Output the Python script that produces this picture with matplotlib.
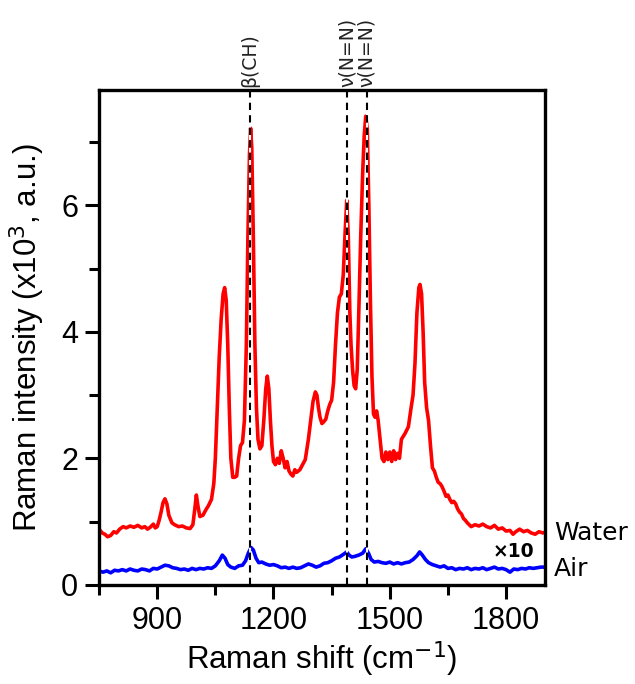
import matplotlib
matplotlib.use("Agg")
import matplotlib.pyplot as plt
from matplotlib.ticker import MultipleLocator

plt.rcParams['font.family'] = ['Liberation Sans', 'DejaVu Sans']

# Raman spectrum in water (red)
water_shift = [750, 758, 765, 772, 780, 788, 795, 803, 812, 820, 830, 840, 850, 860, 868, 875,
               882, 890, 895, 900, 905, 910, 915, 920, 925, 930, 938, 945, 955, 965, 975, 985,
               992, 997, 1001, 1005, 1010, 1018, 1025, 1032, 1040, 1046, 1050, 1055, 1060, 1065,
               1070, 1074, 1078, 1082, 1086, 1090, 1095, 1100, 1105, 1110, 1115, 1120, 1125, 1130,
               1134, 1138, 1141, 1144, 1148, 1152, 1156, 1160, 1165, 1170, 1175, 1180, 1184, 1188,
               1192, 1196, 1200, 1205, 1210, 1215, 1220, 1225, 1230, 1235, 1240, 1245, 1250, 1255,
               1260, 1268, 1275, 1282, 1290, 1296, 1302, 1308, 1312, 1316, 1320, 1325, 1330, 1335,
               1340, 1345, 1350, 1355, 1360, 1365, 1370, 1375, 1380, 1385, 1389, 1393, 1397, 1400,
               1404, 1408, 1412, 1416, 1420, 1425, 1430, 1434, 1438, 1442, 1446, 1450, 1454, 1458,
               1462, 1466, 1470, 1475, 1480, 1485, 1490, 1495, 1500, 1505, 1510, 1515, 1520, 1525,
               1530, 1540, 1548, 1555, 1560, 1565, 1570, 1575, 1578, 1582, 1586, 1590, 1595, 1600,
               1605, 1610, 1615, 1620, 1625, 1630, 1635, 1640, 1645, 1650, 1655, 1660, 1665, 1670,
               1675, 1680, 1685, 1690, 1695, 1700, 1705, 1710, 1720, 1730, 1740, 1750, 1760, 1770,
               1780, 1790, 1800, 1810, 1818, 1825, 1835, 1845, 1855, 1865, 1875, 1885, 1895, 1900]
water_int = [0.88, 0.82, 0.80, 0.76, 0.78, 0.84, 0.82, 0.88, 0.92, 0.90, 0.93, 0.91, 0.94, 0.90, 0.92, 0.88,
             0.91, 0.96, 0.90, 0.92, 1.02, 1.15, 1.30, 1.36, 1.28, 1.10, 0.98, 0.95, 0.92, 0.93, 0.90, 0.89,
             0.95, 1.20, 1.42, 1.25, 1.08, 1.10, 1.18, 1.25, 1.35, 1.60, 2.0, 2.8, 3.6, 4.2,
             4.6, 4.70, 4.5, 3.8, 2.8, 2.0, 1.70, 1.70, 1.72, 2.0, 2.2, 2.25, 2.6, 3.8,
             5.5, 6.8, 7.22, 6.9, 5.5, 3.8, 2.8, 2.3, 2.15, 2.2, 2.6, 3.1, 3.30, 3.1,
             2.6, 2.2, 1.95, 1.90, 2.0, 1.92, 2.12, 2.0, 1.85, 1.95, 1.80, 1.75, 1.72, 1.82,
             1.78, 1.82, 1.90, 1.98, 2.3, 2.6, 2.9, 3.05, 3.0, 2.8, 2.65, 2.55, 2.58, 2.62,
             2.75, 2.85, 2.92, 3.2, 3.8, 4.3, 4.55, 4.6, 4.9, 5.6, 6.08, 5.5, 4.3, 3.8,
             3.4, 3.15, 3.1, 3.4, 4.3, 5.5, 6.5, 7.1, 7.41, 7.2, 6.0, 4.5, 3.3, 2.7,
             2.65, 2.75, 2.6, 2.3, 2.0, 1.95, 2.1, 1.98, 2.1, 1.95, 2.12, 1.98, 2.08, 2.0,
             2.3, 2.4, 2.5, 2.8, 3.0, 3.5, 4.3, 4.7, 4.75, 4.6, 4.0, 3.2, 2.8, 2.6,
             2.2, 1.85, 1.80, 1.70, 1.62, 1.60, 1.55, 1.48, 1.40, 1.42, 1.35, 1.30, 1.32, 1.28,
             1.20, 1.15, 1.12, 1.05, 1.02, 0.98, 0.95, 0.92, 0.95, 0.93, 0.96, 0.92, 0.90, 0.94,
             0.88, 0.90, 0.85, 0.86, 0.80, 0.84, 0.88, 0.84, 0.86, 0.82, 0.80, 0.84, 0.82, 0.83]

# Raman spectrum in air (blue, x10)
air_shift = [750, 760, 770, 780, 790, 800, 810, 820, 830, 840, 850, 860, 870, 880, 890, 900,
             910, 920, 930, 940, 950, 960, 970, 980, 990, 1000, 1010, 1020, 1030, 1040, 1050, 1060,
             1068, 1075, 1082, 1090, 1100, 1110, 1120, 1128, 1135, 1142, 1148, 1155, 1162, 1170,
             1180, 1190, 1200, 1210, 1220, 1230, 1240, 1250, 1260, 1270, 1280, 1290, 1300, 1310,
             1320, 1330, 1340, 1350, 1360, 1370, 1380, 1389, 1395, 1402, 1410, 1420, 1430, 1438,
             1445, 1452, 1460, 1470, 1480, 1490, 1500, 1510, 1520, 1530, 1540, 1550, 1560, 1570,
             1577, 1584, 1592, 1600, 1610, 1620, 1630, 1640, 1650, 1660, 1670, 1680, 1690, 1700,
             1710, 1720, 1730, 1740, 1750, 1760, 1770, 1780, 1790, 1800, 1810, 1820, 1830, 1840,
             1850, 1860, 1870, 1880, 1890, 1900]
air_int = [0.22, 0.20, 0.22, 0.19, 0.23, 0.22, 0.24, 0.22, 0.25, 0.23, 0.22, 0.25, 0.24, 0.22, 0.26, 0.25,
           0.28, 0.31, 0.30, 0.27, 0.26, 0.24, 0.25, 0.23, 0.26, 0.24, 0.26, 0.25, 0.27, 0.26, 0.30, 0.38,
           0.47, 0.42, 0.32, 0.28, 0.26, 0.30, 0.31, 0.38, 0.50, 0.59, 0.55, 0.42, 0.35, 0.36,
           0.33, 0.31, 0.32, 0.30, 0.27, 0.28, 0.26, 0.28, 0.26, 0.27, 0.30, 0.33, 0.31, 0.28,
           0.30, 0.34, 0.35, 0.38, 0.42, 0.44, 0.48, 0.52, 0.47, 0.44, 0.45, 0.47, 0.50, 0.57,
           0.50, 0.40, 0.36, 0.37, 0.35, 0.34, 0.36, 0.33, 0.35, 0.33, 0.35, 0.36, 0.40, 0.46,
           0.52, 0.47, 0.40, 0.35, 0.32, 0.30, 0.28, 0.30, 0.26, 0.27, 0.24, 0.26, 0.25, 0.27,
           0.24, 0.26, 0.25, 0.27, 0.24, 0.26, 0.28, 0.25, 0.26, 0.24, 0.20, 0.25, 0.24, 0.26,
           0.25, 0.27, 0.26, 0.27, 0.28, 0.28]

# band assignments
band_pos = [1140, 1390, 1440]
band_labels = ["β(CH)", "ν(N=N)", "ν(N=N)"]


fig = plt.figure(figsize=(6.35, 6.84), dpi=100)
ax = fig.add_axes([0.156, 0.145, 0.702, 0.723])

ax.plot(water_shift, water_int, color="#ff0000", lw=2.6, zorder=2)
ax.plot(air_shift, air_int, color="#0000ff", lw=2.6, zorder=2)

for pos, lab in zip(band_pos, band_labels):
    ax.axvline(pos, color="black", lw=1.5, linestyle=(0, (3.5, 2.5)),
               gapcolor="white", zorder=3)
    ax.text(pos, 1.006, lab, transform=ax.get_xaxis_transform(), rotation=90,
            ha="center", va="bottom", fontsize=13.5, family=["DejaVu Sans"], color="#222222")

ax.set_xlim(750, 1900)
ax.set_ylim(0, 7.82)
ax.xaxis.set_major_locator(MultipleLocator(300))
ax.xaxis.set_minor_locator(MultipleLocator(150))
ax.yaxis.set_major_locator(MultipleLocator(2))
ax.yaxis.set_minor_locator(MultipleLocator(1))

ax.tick_params(which="both", direction="out", width=2.2, labelsize=22, colors="black")
ax.tick_params(which="major", length=10, pad=5)
ax.tick_params(which="minor", length=7)
for sp in ax.spines.values():
    sp.set_linewidth(2.4)

ax.set_xlabel("Raman shift (cm$^{-1}$)", fontsize=22.5, labelpad=3)
ax.set_ylabel("Raman intensity (x10$^{3}$, a.u.)", fontsize=22.5, labelpad=10)

ax.text(1.02, 0.82 / 7.82, "Water", transform=ax.transAxes, fontsize=18,
        family=["DejaVu Sans"], ha="left", va="center", clip_on=False)
ax.text(1.02, 0.25 / 7.82, "Air", transform=ax.transAxes, fontsize=18,
        family=["DejaVu Sans"], ha="left", va="center", clip_on=False)
ax.text(1820, 0.52, "×10", fontsize=13.5, fontweight="bold", ha="center", va="center",
        family=["DejaVu Sans"])

fig.savefig("out.png", dpi=100)
